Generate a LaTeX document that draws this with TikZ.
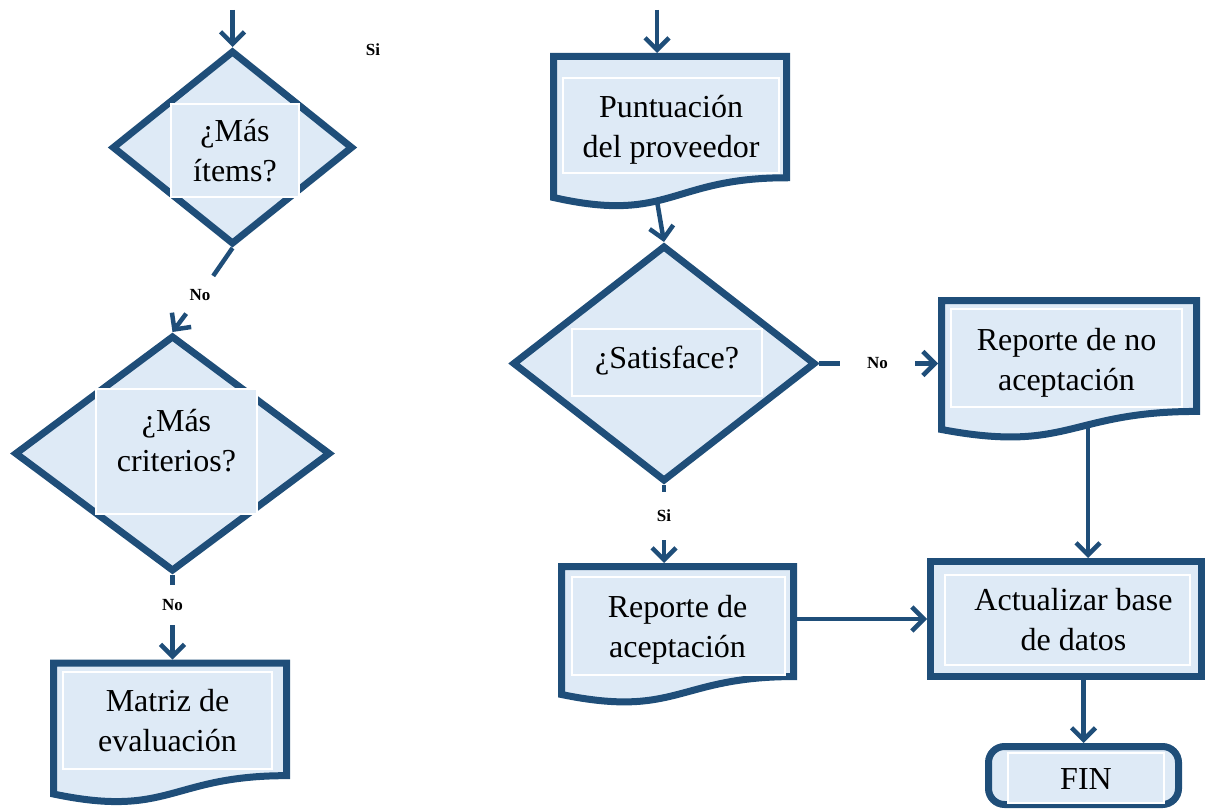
\documentclass[tikz,border=0pt]{standalone}
\usepackage{fontspec}
\setmainfont{Liberation Serif}
\usetikzlibrary{shapes.geometric,arrows.meta,calc}
\definecolor{dblue}{HTML}{1F4E79}
\definecolor{lblue}{HTML}{DEEAF6}

\tikzset{
  frame/.style={draw=dblue, fill=lblue, line width=7pt, inner sep=0pt, outer sep=3.5pt},
  decision/.style={frame, diamond},
  docbox/.style={rectangle, draw=none, inner sep=0pt, outer sep=3.5pt},
  procbox/.style={frame, rectangle},
  endbox/.style={frame, rectangle, rounded corners=16pt},
  inner/.style={draw=white, fill=lblue, line width=1.5pt, inner sep=0pt, align=center,
                font=\fontsize{32}{40}\selectfont},
  lbl/.style={inner sep=0pt, font=\fontsize{17}{20}\selectfont\bfseries},
  conn/.style={draw=dblue, line width=4.5pt},
  arr/.style={conn, -{Straight Barb[length=12pt,width=24pt]}},
  docpath/.style={draw=dblue, fill=lblue, line width=7pt, line join=miter},
}

% centred lines of text, moved by [horizontal] and {vertical} offsets
% (the box keeps its natural height and depth, so the node stays centred)
\newcommand\mlines[3][0pt]{\hspace*{#1}\raisebox{#2}[\height][\depth]{\begin{tabular}{@{}c@{}}#3\end{tabular}}}

% document symbol with a wavy lower edge, drawn on the border of a docbox node
\newcommand\docshape[1]{%
  \coordinate (#1-nw) at ([xshift=3.5pt,yshift=-3.5pt]#1.north west);
  \coordinate (#1-ne) at ([xshift=-3.5pt,yshift=-3.5pt]#1.north east);
  \coordinate (#1-sw) at ([xshift=3.5pt,yshift=3.5pt]#1.south west);
  \coordinate (#1-se) at ([xshift=-3.5pt,yshift=3.5pt]#1.south east);
  \coordinate (#1-n) at ($(#1-nw)!0.5!(#1-ne)$);
  \coordinate (#1-s) at ($(#1-sw)!0.5!(#1-se)$);
  \path[docpath] (#1-nw) -- (#1-ne) -- ($(#1-ne)!0.86!(#1-se)$)
    .. controls ($(#1-n)!0.86!(#1-s)$) and ($(#1-n)!1.187!(#1-s)$) .. (#1-sw) -- cycle;
}

\begin{document}
\begin{tikzpicture}[x=1pt,y=-1pt]
\useasboundingbox (0,0) rectangle (1209,810);

% left column
\node[decision, minimum width=241pt, minimum height=194pt] (d1) at (232.5,147.5) {};
\node[inner, minimum width=128pt, minimum height=93pt] (d1t) at (235,150.5) {\mlines{-3.5pt}{¿Más\\ítems?}};

\node[decision, minimum width=316pt, minimum height=236pt] (d2) at (172.5,453.5) {};
\node[inner, minimum width=161pt, minimum height=125pt] (d2t) at (176.5,451.5) {\mlines{8pt}{¿Más\\criterios?}};

\node[docbox, minimum width=233pt, minimum height=131pt] (matriz) at (170,728.5) {};
\docshape{matriz}
\node[inner, minimum width=209pt, minimum height=97pt] (matrizt) at (167.5,720.5) {\mlines{-2.5pt}{Matriz de\\evaluación}};

% middle column
\node[docbox, minimum width=233pt, minimum height=141pt] (punt) at (670,127) {};
\docshape{punt}
\node[inner, minimum width=216pt, minimum height=95pt] (puntt) at (671,125.5) {\mlines{-4.5pt}{Puntuación\\del proveedor}};

\node[decision, minimum width=303pt, minimum height=236pt] (sat) at (664,363.5) {};
\node[inner, minimum width=190pt, minimum height=67pt] (satt) at (667,362.5) {\mlines{2pt}{¿Satisface?}};

\node[docbox, minimum width=232pt, minimum height=128pt] (acep) at (677.5,630.5) {};
\docshape{acep}
\node[inner, minimum width=213pt, minimum height=98pt] (acept) at (678.5,626) {\mlines[-2pt]{-3.5pt}{Reporte de\\aceptación}};

% right column
\node[docbox, minimum width=255pt, minimum height=129pt] (noac) at (1069,365) {};
\docshape{noac}
\node[inner, minimum width=231pt, minimum height=98pt] (noact) at (1066.5,358) {\mlines{-4pt}{Reporte de no\\aceptación}};

\node[procbox, minimum width=271pt, minimum height=115pt] (act) at (1066,619) {};
\node[inner, minimum width=245pt, minimum height=90pt] (actt) at (1067.5,620) {\mlines[12pt]{-2pt}{Actualizar base\\de datos}};

\node[endbox, minimum width=190pt, minimum height=58pt] (fin) at (1083.5,775.5) {};
\node[inner, minimum width=156pt, minimum height=50pt] (fint) at (1086,778) {\mlines{-3pt}{FIN}};

% branch labels
\node[lbl] (si1) at (373,50) {Si};
\node[lbl, circle, minimum size=46pt] (no1) at (200,295) {No};
\node[lbl, minimum height=40pt] (no2) at (172.5,605) {No};
\node[lbl, minimum width=75pt] (no3) at (877.5,363.5) {No};
\node[lbl, minimum height=48pt] (si2) at (664,516) {Si};

% incoming flow
\coordinate (in1) at (232.5,10);
\coordinate (in2) at (657,10);

% connectors
\draw[arr] (in1) -- (d1.north);
\draw[conn] (d1.south) -- (no1);
\draw[arr] (no1) -- (d2.north);
\draw[conn] (d2.south) -- (no2.north);
\draw[arr] (no2.south) -- (no2.south |- matriz.north);

\draw[arr] (in2) -- (in2 |- punt.north);
\draw[arr] (punt.south -| in2) -- (sat.north);
\draw[conn] (sat.east) -- (no3.west);
\draw[arr] (no3.east) -- (no3.east -| noac.west);
\draw[conn] (sat.south) -- (si2.north);
\draw[arr] (si2.south) -- (si2.south |- acep.north);

\coordinate (noacout) at ([xshift=19pt,yshift=6pt]noac.south);
\draw[arr] (noacout) -- (noacout |- act.north);
\draw[arr] (act.west -| acep.east) -- (act.west);
\draw[arr] (fin.north |- act.south) -- (fin.north);
\end{tikzpicture}
\end{document}
